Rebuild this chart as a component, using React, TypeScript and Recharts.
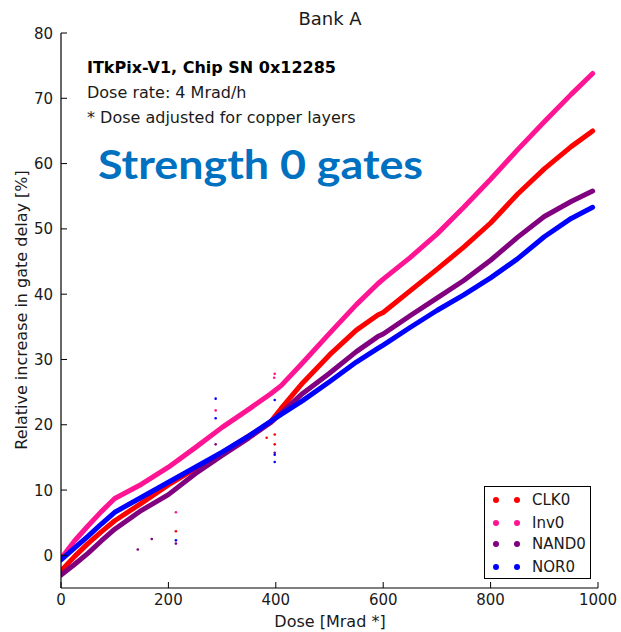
import React from 'react';
import { ComposedChart, Line, Scatter, XAxis, YAxis, Legend, Customized } from 'recharts';

// ---- data ----
const doses = [0, 25, 50, 75, 100, 150, 200, 250, 300, 350, 390, 410, 450, 500, 550, 590, 600, 650, 700, 750, 800, 850, 900, 950, 990];
const clk0 = [-2.4, -0.2, 1.8, 3.6, 5.3, 8.0, 10.8, 13.3, 15.7, 18.3, 20.4, 22.5, 26.4, 30.7, 34.5, 36.8, 37.2, 40.5, 43.8, 47.2, 50.9, 55.3, 59.2, 62.6, 65.0];
const inv0 = [-0.5, 2.2, 4.5, 6.7, 8.7, 10.9, 13.5, 16.5, 19.6, 22.4, 24.7, 26.0, 29.5, 34.0, 38.4, 41.6, 42.3, 45.6, 49.2, 53.3, 57.6, 62.1, 66.4, 70.6, 73.8];
const nand0 = [-3.0, -1.4, 0.3, 2.2, 4.0, 6.9, 9.3, 12.5, 15.3, 18.0, 20.3, 21.8, 24.8, 27.9, 31.2, 33.5, 33.9, 36.7, 39.4, 42.1, 45.2, 48.7, 51.9, 54.2, 55.8];
const nor0 = [-0.7, 1.1, 2.9, 4.8, 6.6, 8.9, 11.2, 13.5, 15.8, 18.3, 20.5, 21.6, 23.7, 26.6, 29.6, 31.7, 32.2, 34.9, 37.5, 39.9, 42.5, 45.4, 48.8, 51.6, 53.3];

// stray points [dose, value]
const clk0Out = [[214, 3.7], [398, 18.5], [398, 17.0], [383, 18.0]];
const inv0Out = [[214, 6.6], [288, 22.2], [398, 27.8], [397, 27.2]];
const nand0Out = [[143, 0.9], [169, 2.5], [214, 1.8], [398, 15.7], [288, 17.0]];
const nor0Out = [[214, 2.3], [288, 24.0], [288, 21.0], [398, 23.8], [398, 15.4], [398, 14.3]];

const xTicks = [0, 200, 400, 600, 800, 1000];
const yTicks = [0, 10, 20, 30, 40, 50, 60, 70, 80];

const seriesNames = ['CLK0', 'Inv0', 'NAND0', 'NOR0'];
const seriesKeys = ['clk0', 'inv0', 'nand0', 'nor0'];
const seriesColors = ['#ff0000', '#ff1493', '#800080', '#0000ff'];
const outliers = [clk0Out, inv0Out, nand0Out, nor0Out];

const rows = doses.map((d, i) => ({ dose: d, clk0: clk0[i], inv0: inv0[i], nand0: nand0[i], nor0: nor0[i] }));
const outRows = outliers.map((arr) => arr.map(([d, v]) => ({ dose: d, value: v })));

const FONT = '"DejaVu Sans", sans-serif';
const TXT = '#1a1a1a';

const BottomTick = (p: any) => (
  <g>
    <line x1={p.x} y1={p.y} x2={p.x} y2={p.y - 6} stroke="#000" strokeWidth={1} />
    <text x={p.x} y={p.y + 17} textAnchor="middle" fontSize={15} fontFamily={FONT} fill={TXT}>{p.payload.value}</text>
  </g>
);
const TopTick = (p: any) => (
  <line x1={p.x} y1={p.y} x2={p.x} y2={p.y + 6} stroke="#000" strokeWidth={1} />
);
const LeftTick = (p: any) => (
  <g>
    <line x1={p.x} y1={p.y} x2={p.x + 6} y2={p.y} stroke="#000" strokeWidth={1} />
    <text x={p.x - 8} y={p.y + 5.5} textAnchor="end" fontSize={15} fontFamily={FONT} fill={TXT}>{p.payload.value}</text>
  </g>
);
const RightTick = (p: any) => (
  <line x1={p.x} y1={p.y} x2={p.x - 6} y2={p.y} stroke="#000" strokeWidth={1} />
);

const Dot = (p: any) => <circle cx={p.cx} cy={p.cy} r={1.3} fill={p.fill} />;

const Texts = () => (
  <g>
    <text x={330} y={25} textAnchor="middle" fontSize={18} fontFamily={FONT} fill={TXT}>Bank A</text>
    <text x={330} y={627} textAnchor="middle" fontSize={16} fontFamily={FONT} fill={TXT}>Dose [Mrad *]</text>
    <text x={27} y={310} transform="rotate(-90 27 310)" textAnchor="middle" fontSize={16} fontFamily={FONT} fill={TXT}>Relative increase in gate delay [%]</text>
    <text x={87} y={73} fontSize={16} fontWeight="bold" fontFamily={FONT} fill="#000">ITkPix-V1, Chip SN 0x12285</text>
    <text x={87} y={98} fontSize={16} fontFamily={FONT} fill={TXT}>Dose rate: 4 Mrad/h</text>
    <text x={87} y={123} fontSize={16} fontFamily={FONT} fill={TXT}>* Dose adjusted for copper layers</text>
    <text x={98} y={179} fontSize={41} fontWeight={700} fontFamily='Lato, "Open Sans", sans-serif' fill="#0070c0" textLength={325} lengthAdjust="spacingAndGlyphs">Strength 0 gates</text>
  </g>
);

const LegendBox = () => (
  <div style={{ width: 105, height: 91, border: '1px solid #000', background: '#fff', position: 'relative', fontFamily: FONT, fontSize: 15, color: TXT }}>
    {seriesNames.map((n, i) => (
      <div key={n} style={{ position: 'absolute', left: 0, top: [13, 36, 57, 80][i] - 11, height: 22, width: 105 }}>
        <span style={{ position: 'absolute', left: 8, top: 8, width: 6, height: 6, borderRadius: 3, background: seriesColors[i] }} />
        <span style={{ position: 'absolute', left: 29, top: 8, width: 6, height: 6, borderRadius: 3, background: seriesColors[i] }} />
        <span style={{ position: 'absolute', left: 47, top: 1, lineHeight: '20px' }}>{n}</span>
      </div>
    ))}
  </div>
);

export default function App() {
  return (
    <div style={{ position: 'absolute', left: 0, top: 0, width: 621, height: 632, background: '#fff' }}>
      <ComposedChart width={621} height={632} data={rows} margin={{ top: 33, right: 23, bottom: 0, left: 0 }}>
        <XAxis xAxisId="b" dataKey="dose" type="number" domain={[0, 1000]} ticks={xTicks} height={44}
          tickSize={0} tickMargin={0} tickLine={false} tick={<BottomTick />} axisLine={{ stroke: '#000', strokeWidth: 1.2 }} allowDataOverflow />
        <XAxis xAxisId="t" orientation="top" dataKey="dose" type="number" domain={[0, 1000]} ticks={xTicks} height={0}
          tickSize={0} tickMargin={0} tickLine={false} tick={<TopTick />} axisLine={{ stroke: '#000', strokeWidth: 1.2 }} allowDataOverflow />
        <YAxis yAxisId="l" type="number" domain={[-5, 80]} ticks={yTicks} width={61}
          tickSize={0} tickMargin={0} tickLine={false} tick={<LeftTick />} axisLine={{ stroke: '#000', strokeWidth: 1.2 }} allowDataOverflow />
        <YAxis yAxisId="r" orientation="right" type="number" domain={[-5, 80]} ticks={yTicks} width={0}
          tickSize={0} tickMargin={0} tickLine={false} tick={<RightTick />} axisLine={{ stroke: '#000', strokeWidth: 1.2 }} allowDataOverflow />
        {seriesKeys.map((k, i) => (
          <Line key={k} xAxisId="b" yAxisId="l" dataKey={k} name={seriesNames[i]} type="linear" stroke={seriesColors[i]}
            strokeWidth={5} strokeLinecap="round" strokeLinejoin="round" dot={false} activeDot={false} isAnimationActive={false} legendType="none" />
        ))}
        {seriesKeys.map((k, i) => (
          <Scatter key={k + 'o'} xAxisId="b" yAxisId="l" data={outRows[i]} dataKey="value" fill={seriesColors[i]}
            shape={<Dot />} isAnimationActive={false} legendType="none" />
        ))}
        <Customized component={Texts} />
        <Legend layout="horizontal" verticalAlign="middle" align="center" content={() => <LegendBox />}
          wrapperStyle={{ position: 'absolute', left: 484, top: 486, width: 107, height: 93 }} />
      </ComposedChart>
    </div>
  );
}
